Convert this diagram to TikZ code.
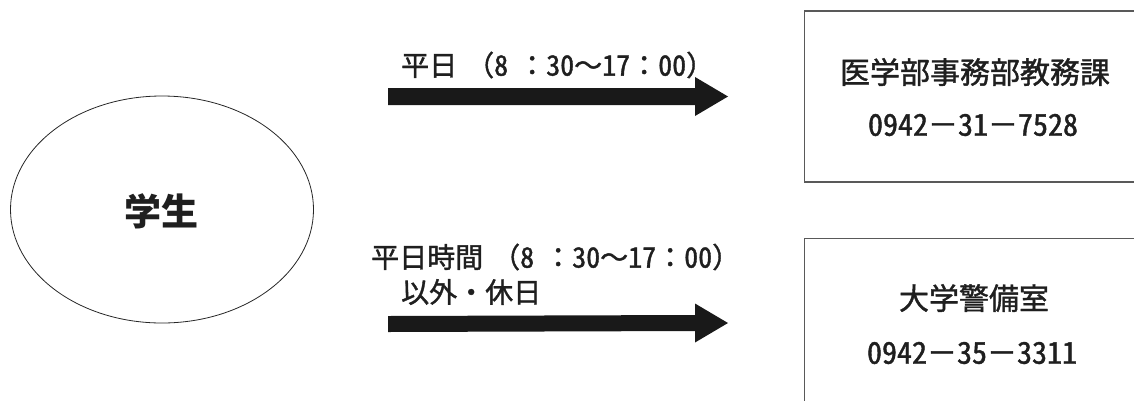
\documentclass[tikz,border=0pt]{standalone}
\usepackage{fontspec}
\usepackage{graphicx}
\setmainfont{Noto Sans CJK JP}[UprightFeatures={FakeBold=1.3}]
\newfontfamily\hwfont{Noto Sans CJK JP}[CharacterWidth=Half,UprightFeatures={FakeBold=1.3}]
\newcommand\hw[1]{{\hwfont #1}}
\usetikzlibrary{shapes.geometric,calc}
\tikzset{
  lbl/.style={inner sep=0pt, anchor=west, font=\fontsize{28}{32}\selectfont, text=black!88},
  boxtxt/.style={inner sep=0pt, font=\fontsize{30}{34}\selectfont, text=black!88},
  contact/.style={draw=black!65, line width=1.3pt, inner sep=0pt},
  person/.style={ellipse, draw=black!85, line width=0.8pt, inner sep=0pt},
  bigarrow/.style={fill=black!90},
}
\begin{document}
\begin{tikzpicture}[x=1pt,y=-1pt]
\useasboundingbox (0,0) rectangle (1134,400);
\clip (0,0) rectangle (1134,400);
% student
\node[person, minimum width=303pt, minimum height=227pt] (student) at (162,209.5) {};
\node[inner sep=0pt, font=\fontsize{37}{40}\selectfont\bfseries, text=black!88] (studentlbl) at (161,211) {学生};
% contact boxes
\node[contact, minimum width=335.5pt, minimum height=171pt] (kyomu) at (972.25,96.5) {};
\node[boxtxt] (kyomu1) at (975,72) {医学部事務部教務課};
\node[boxtxt] (kyomu2) at (973,125) {\hw{0942}－\hw{31}－\hw{7528}};
\node[contact, minimum width=335.5pt, minimum height=180pt] (keibi) at (972.25,328.7) {};
\node[boxtxt] (keibi1) at (974,298) {大学警備室};
\node[boxtxt] (keibi2) at (972,353) {\hw{0942}－\hw{35}－\hw{3311}};
% labels
\node[lbl] (lblday) at (401,65) {平日\hspace{9pt}（\hw{8}\hspace{10pt}：\hw{30}～\hw{17}：\hw{00}）};
\node[lbl] (lblnight1) at (371,257) {平日時間\hspace{9pt}（\hw{8}\hspace{10pt}：\hw{30}～\hw{17}：\hw{00}）};
\node[lbl] (lblnight2) at (401,292) {以外・休日};
% arrows
\coordinate (a1s) at (388,96.5);
\coordinate (a1t) at (728,96.5);
\coordinate (a2s) at (388,324);
\coordinate (a2t) at (728,323);
\fill[bigarrow] ($(a1s)+(0,-8.5)$) -- ($(a1t)+(-33,-8.5)$) -- ($(a1t)+(-33,-19.5)$) -- (a1t)
  -- ($(a1t)+(-33,19.5)$) -- ($(a1t)+(-33,8.5)$) -- ($(a1s)+(0,8.5)$) -- cycle;
\fill[bigarrow] ($(a2s)+(0,-8)$) -- ($(a2t)+(-33,-8)$) -- ($(a2t)+(-33,-19.5)$) -- (a2t)
  -- ($(a2t)+(-33,19.5)$) -- ($(a2t)+(-33,8)$) -- ($(a2s)+(0,8)$) -- cycle;
\end{tikzpicture}
\end{document}
